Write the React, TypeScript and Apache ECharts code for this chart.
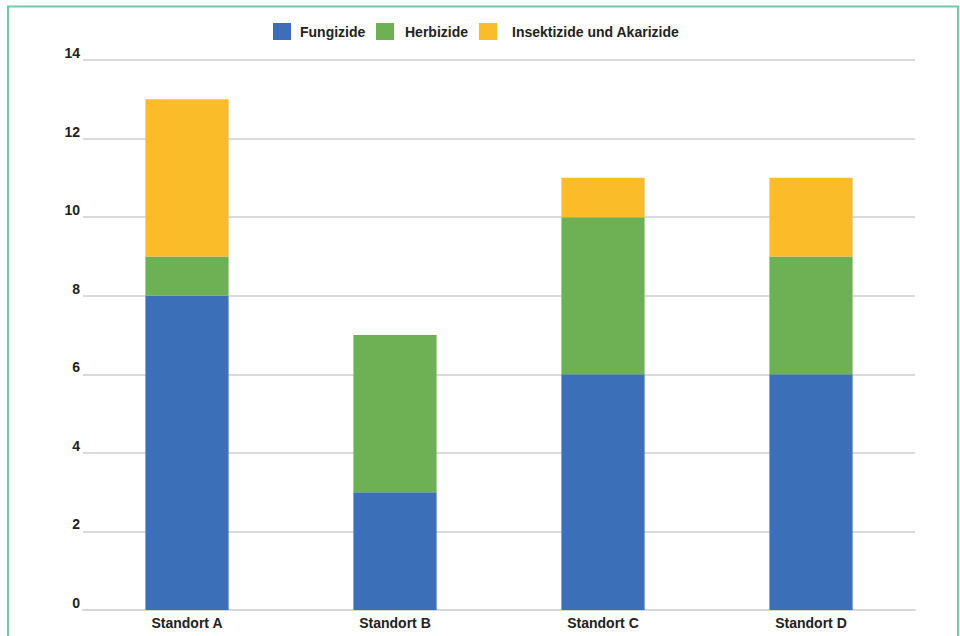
import React, { useEffect, useRef } from "react";
import * as echarts from "echarts";

const categories = ["Standort A", "Standort B", "Standort C", "Standort D"];
const fungizide = [8, 3, 6, 6];
const herbizide = [1, 4, 4, 3];
const insektizide = [4, 0, 1, 2];
const seriesNames = ["Fungizide", "Herbizide", "Insektizide und Akarizide"];
const colors = ["#3b70b9", "#6eb155", "#fbbc2a"];

export default function App() {
  const ref = useRef<HTMLDivElement>(null);

  useEffect(() => {
    if (!ref.current) return;
    const chart = echarts.init(ref.current, null, { renderer: "svg" });
    const font = "'Liberation Sans', Arial, Helvetica, sans-serif";
    const values = [fungizide, herbizide, insektizide];
    const legendLefts = [268, 371, 474];
    const legendTextPad = [4, 6, 10];
    chart.setOption({
      animation: false,
      backgroundColor: "#ffffff",
      textStyle: { fontFamily: font },
      legend: seriesNames.map((name, i) => ({
        top: 18,
        left: legendLefts[i],
        itemWidth: 18,
        itemHeight: 17,
        icon: "rect",
        textStyle: {
          fontSize: 14,
          fontWeight: "bold",
          color: "#222",
          fontFamily: font,
          padding: [0, 0, 0, legendTextPad[i]],
        },
        data: [name],
      })),
      grid: { left: 83, right: 45, top: 60, bottom: 26, containLabel: false },
      xAxis: {
        type: "category",
        data: categories,
        axisLine: { show: true, lineStyle: { color: "#d6d6d6", width: 2 } },
        axisTick: { show: false },
        axisLabel: { fontSize: 14, fontWeight: "bold", color: "#222", margin: 6, fontFamily: font },
      },
      yAxis: {
        type: "value",
        min: 0,
        max: 14,
        interval: 2,
        axisLine: { show: false },
        axisTick: { show: false },
        splitLine: { lineStyle: { color: "#dadada", width: 2 } },
        axisLabel: { fontSize: 14, fontWeight: "bold", color: "#222", margin: 3, verticalAlign: "bottom", fontFamily: font },
      },
      graphic: [
        {
          type: "polyline",
          shape: { points: [[8, 640], [8, 6.5], [958, 6.5], [958, 640]] },
          style: { stroke: "#74c9a3", lineWidth: 2, fill: "none" },
          silent: true,
        },
      ],
      series: seriesNames.map((name, i) => ({
        name,
        type: "bar",
        stack: "total",
        barWidth: "40%",
        itemStyle: { color: colors[i] },
        data: values[i],
      })),
    });
    return () => chart.dispose();
  }, []);

  return (
    <div
      ref={ref}
      style={{ position: "fixed", left: 0, top: 0, width: 960, height: 636 }}
    />
  );
}
